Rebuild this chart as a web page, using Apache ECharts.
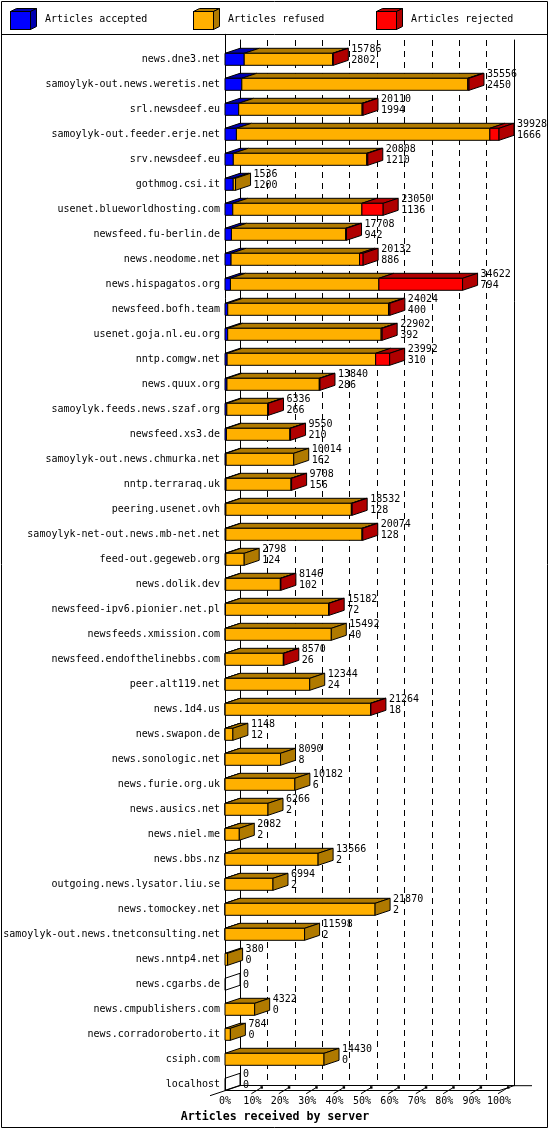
<!DOCTYPE html>
<html>
<head>
<meta charset="utf-8">
<script src="https://cdn.jsdelivr.net/npm/echarts@6/dist/echarts.min.js"></script>
<style>
html,body{margin:0;padding:0;background:#fff;}
#chart{width:550px;height:1130px;}
</style>
</head>
<body>
<div id="chart"></div>
<script>
const categories = [
  'news.dne3.net','samoylyk-out.news.weretis.net','srl.newsdeef.eu','samoylyk-out.feeder.erje.net',
  'srv.newsdeef.eu','gothmog.csi.it','usenet.blueworldhosting.com','newsfeed.fu-berlin.de',
  'news.neodome.net','news.hispagatos.org','newsfeed.bofh.team','usenet.goja.nl.eu.org',
  'nntp.comgw.net','news.quux.org','samoylyk.feeds.news.szaf.org','newsfeed.xs3.de',
  'samoylyk-out.news.chmurka.net','nntp.terraraq.uk','peering.usenet.ovh','samoylyk-net-out.news.mb-net.net',
  'feed-out.gegeweb.org','news.dolik.dev','newsfeed-ipv6.pionier.net.pl','newsfeeds.xmission.com',
  'newsfeed.endofthelinebbs.com','peer.alt119.net','news.1d4.us','news.swapon.de',
  'news.sonologic.net','news.furie.org.uk','news.ausics.net','news.niel.me',
  'news.bbs.nz','outgoing.news.lysator.liu.se','news.tomockey.net','samoylyk-out.news.tnetconsulting.net',
  'news.nntp4.net','news.cgarbs.de','news.cmpublishers.com','news.corradoroberto.it',
  'csiph.com','localhost'
];
const totals = [15786,35556,20110,39928,20808,1536,23050,17708,20132,34622,
  24024,22902,23992,13840,6336,9550,10014,9708,18532,20074,
  2798,8146,15182,15492,8570,12344,21264,1148,8090,10182,
  6266,2082,13566,6994,21870,11598,380,0,4322,784,14430,0];
const accepted = [2802,2450,1994,1666,1210,1200,1136,942,886,794,
  400,392,310,286,266,210,162,156,128,128,
  124,102,72,40,26,24,18,12,8,6,
  2,2,2,2,2,2,0,0,0,0,0,0];
const rejected = [100,180,130,1330,150,0,3100,130,520,12200,
  200,150,2040,100,110,100,0,90,120,110,
  0,80,90,0,70,0,60,0,0,0,
  0,0,0,0,0,0,0,0,0,0,0,0];
const seriesNames = ['Articles accepted','Articles refused','Articles rejected'];
const xTickPercents = [0,10,20,30,40,50,60,70,80,90,100];

const FRONT = ['#0000ff','#ffb000','#ff0000'];
const DARK  = ['#0000b0','#b07a00','#b00000'];
const DX = 15, DY = -5, HALF = 6;
const MAXV = Math.max.apply(null, totals);
const YMAX = 41.256;
const FONT = 'DejaVu Sans Mono';

const refused = totals.map((t,i)=>t-accepted[i]-rejected[i]);
const segValues = [accepted, refused, rejected];

// per-series data: [start, end, idx, isLast, isZeroRow]
const seriesData = [[],[],[]];
categories.forEach((c,i)=>{
  let cum = 0;
  let last = -1;
  for (let k=0;k<3;k++) if (segValues[k][i] > 0) last = k;
  for (let k=0;k<3;k++){
    const v = segValues[k][i];
    const zeroRow = (totals[i] === 0 && k === 0) ? 1 : 0;
    seriesData[k].push([cum, cum+v, i, (k===last)?1:0, zeroRow]);
    cum += v;
  }
});

function barRender(k){
  return function(params, api){
    const s = api.value(0), e = api.value(1), i = api.value(2), last = api.value(3), zero = api.value(4);
    const p0 = api.coord([s, i]), p1 = api.coord([e, i]);
    const x0 = p0[0], x1 = p1[0], y = p0[1];
    const top = y-HALF, bot = y+HALF;
    const children = [];
    const stroke = {stroke:'#000', lineWidth:1};
    if (zero) {
      children.push({type:'polygon', shape:{points:[[x0,top],[x0+DX,top+DY],[x0+DX,bot+DY],[x0,bot]]},
        style:Object.assign({fill:'none'},stroke)});
      return {type:'group', children};
    }
    if (e > s) {
      children.push({type:'polygon', shape:{points:[[x0,top],[x0+DX,top+DY],[x1+DX,top+DY],[x1,top]]},
        style:Object.assign({fill:DARK[k]},stroke)});
      children.push({type:'rect', shape:{x:x0,y:top,width:x1-x0,height:bot-top},
        style:Object.assign({fill:FRONT[k]},stroke)});
      if (last) {
        children.push({type:'polygon', shape:{points:[[x1,top],[x1+DX,top+DY],[x1+DX,bot+DY],[x1,bot]]},
          style:Object.assign({fill:DARK[k]},stroke)});
      }
    }
    return {type:'group', children};
  };
}

function iconSvg(k){
  const svg = "<svg xmlns='http://www.w3.org/2000/svg' width='30' height='22' viewBox='0 0 30 22'>" +
    "<polygon points='0.5,3.5 6.5,0.5 26.5,0.5 20.5,3.5' fill='"+DARK[k]+"' stroke='#000'/>" +
    "<polygon points='20.5,3.5 26.5,0.5 26.5,18.5 20.5,21.5' fill='"+DARK[k]+"' stroke='#000'/>" +
    "<rect x='0.5' y='3.5' width='20' height='18' fill='"+FRONT[k]+"' stroke='#000'/></svg>";
  return 'image://data:image/svg+xml;charset=utf-8,' + encodeURIComponent(svg);
}

const chart = echarts.init(document.getElementById('chart'), null, {renderer:'canvas'});

const legendLefts = [10, 193, 376];
const axisBase = {axisTick:{show:false}, splitLine:{show:false}};
const option = {
  animation:false,
  backgroundColor:'#fff',
  title:{text:'Articles received by server', left:'center', top:1111, padding:0,
    textStyle:{fontFamily:FONT, fontWeight:'bold', fontSize:11.6, color:'#000'}},
  legend: seriesNames.map((n,k)=>({
    data:[{name:n, icon:iconSvg(k)}], left:legendLefts[k], top:8, padding:0, itemWidth:30, itemHeight:22,
    selectedMode:false, textStyle:{fontFamily:FONT, fontSize:10, color:'#000'}
  })),
  graphic:[
    {type:'rect', shape:{x:1.5,y:1.5,width:546,height:1126}, style:{fill:'none',stroke:'#000',lineWidth:1}, z:100},
    {type:'line', shape:{x1:1.5,y1:34.5,x2:547.5,y2:34.5}, style:{stroke:'#000',lineWidth:1}, z:100}
  ],
  grid:[
    {left:225, right:51, top:34.3, bottom:1130-1090.7},
    {left:225+DX, right:51-DX, top:40, bottom:1130-1090.7-DY}
  ],
  xAxis:[
    {type:'value', gridIndex:0, min:0, max:MAXV, interval:MAXV/10, position:'bottom',
      axisLine:{show:true, onZero:false, lineStyle:{color:'#000', width:1}},
      axisTick:{show:false}, splitLine:{show:false},
      axisLabel:{margin:6, color:'#000', fontFamily:FONT, fontSize:10,
        formatter:v=>{const p=Math.round(v/MAXV*100); return xTickPercents.indexOf(p)>=0 ? p+'%' : '';}}},
    {type:'value', gridIndex:1, min:0, max:MAXV, interval:MAXV/10, position:'bottom',
      axisLine:{show:true, onZero:false, lineStyle:{color:'#000', width:1}},
      axisTick:{show:false}, axisLabel:{show:false},
      splitLine:{show:true, lineStyle:{color:'#000', width:1, type:[6,5]}}}
  ],
  yAxis:[
    {type:'value', gridIndex:0, inverse:true, min:-1, max:YMAX, interval:1, position:'left',
      axisLine:{show:true, onZero:false, lineStyle:{color:'#000', width:1}},
      axisTick:{show:false}, splitLine:{show:false},
      axisLabel:{margin:5, color:'#000', fontFamily:FONT, fontSize:10,
        formatter:v=>{const r=Math.round(v); if (Math.abs(v-r)>1e-6 || r<0 || r>=categories.length) return ''; return categories[r];}}},
    {type:'value', gridIndex:1, inverse:true, min:0, max:1, position:'left',
      axisLine:{show:true, onZero:false, lineStyle:{color:'#000', width:1}},
      axisTick:{show:false}, axisLabel:{show:false}, splitLine:{show:false}},
    {type:'value', gridIndex:1, inverse:true, min:0, max:1, position:'right',
      axisLine:{show:true, onZero:false, lineStyle:{color:'#000', width:1}},
      axisTick:{show:false}, axisLabel:{show:false}, splitLine:{show:false}}
  ],
  series:[
    {type:'custom', name:'floor', xAxisIndex:0, yAxisIndex:0, silent:true, z:1,
      data:[[0, YMAX]],
      renderItem:function(params, api){
        const a = api.coord([0, YMAX]), b = api.coord([MAXV, YMAX]);
        const yF = a[1];
        const children = [
          {type:'line', shape:{x1:a[0]-DX, y1:yF-DY, x2:a[0]+DX, y2:yF+DY}, style:{stroke:'#000', lineWidth:1}},
          {type:'line', shape:{x1:b[0], y1:yF, x2:b[0]+DX, y2:yF+DY}, style:{stroke:'#000', lineWidth:1}},
          {type:'line', shape:{x1:b[0]+DX, y1:yF+DY, x2:b[0]+DX+18, y2:yF+DY}, style:{stroke:'#000', lineWidth:1}}
        ];
        xTickPercents.forEach(p=>{
          if (p===0) return;
          const c = api.coord([MAXV*p/100, YMAX]);
          children.push({type:'line', shape:{x1:c[0]-1, y1:yF+3, x2:c[0]+8, y2:yF-2.5}, style:{stroke:'#000', lineWidth:1}});
          children.push({type:'rect', shape:{x:c[0]+8, y:yF-4.5, width:2.5, height:2.5}, style:{fill:'#000'}});
        });
        return {type:'group', children};
      }},
    ...seriesNames.map((n,k)=>({
      type:'custom', name:n, xAxisIndex:0, yAxisIndex:0, z:3+k,
      itemStyle:{color:FRONT[k]},
      encode:{x:[0,1], y:2},
      data:seriesData[k],
      renderItem:barRender(k)
    })),
    {type:'custom', name:'values', xAxisIndex:0, yAxisIndex:0, z:10, silent:true,
      encode:{x:0, y:1},
      data:totals.map((t,i)=>[t, i, accepted[i]]),
      renderItem:function(params, api){
        const p = api.coord([api.value(0), api.value(1)]);
        return {type:'text', style:{text:api.value(0)+'\n'+api.value(2), x:p[0]+18, y:p[1]-4,
          fill:'#000', fontFamily:FONT, fontSize:10, lineHeight:11, verticalAlign:'middle', align:'left'}};
      }}
  ]
};
chart.setOption(option);
</script>
</body>
</html>
